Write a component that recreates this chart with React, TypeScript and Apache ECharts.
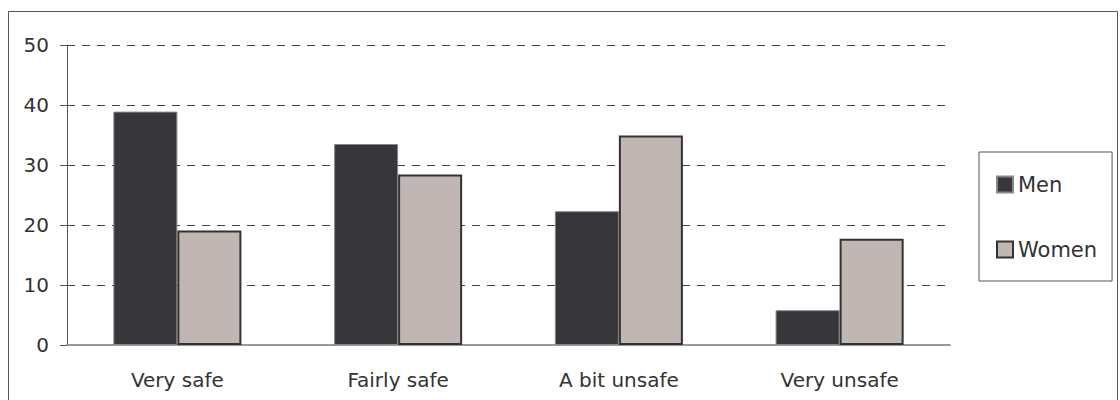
import React, { useEffect, useRef } from "react";
import * as echarts from "echarts";

const categories = ["Very safe", "Fairly safe", "A bit unsafe", "Very unsafe"];
const menValues = [38.9, 33.5, 22.3, 5.8];
const womenValues = [19.1, 28.4, 34.9, 17.7];
const yTicks = { min: 0, max: 50, interval: 10 };

export default function App() {
  const ref = useRef<HTMLDivElement>(null);
  useEffect(() => {
    if (!ref.current) return;
    const chart = echarts.init(ref.current, null, { renderer: "svg" });
    const font = "'DejaVu Sans', sans-serif";
    chart.setOption({
      animation: false,
      backgroundColor: "#ffffff",
      textStyle: { fontFamily: font },
      graphic: [
        {
          type: "rect",
          shape: { x: 8.5, y: 11.5, width: 1109, height: 400 },
          style: { fill: "none", stroke: "#555", lineWidth: 1 },
          silent: true,
        },
      ],
      grid: { left: 67, right: 170, top: 45, bottom: 55 },
      legend: {
        orient: "vertical",
        left: 979,
        top: 152,
        padding: [22, 15, 21, 17],
        itemWidth: 16,
        itemHeight: 16,
        itemGap: 44,
        borderColor: "#555",
        borderWidth: 1,
        icon: "rect",
        textStyle: { fontSize: 21, color: "#333", fontFamily: font },
        data: ["Men", "Women"],
      },
      xAxis: {
        type: "category",
        data: categories,
        axisLine: { show: true, lineStyle: { color: "#999", width: 2 } },
        axisTick: { show: false },
        axisLabel: { fontSize: 20, color: "#333", margin: 25, fontFamily: font },
      },
      yAxis: {
        type: "value",
        min: yTicks.min,
        max: yTicks.max,
        interval: yTicks.interval,
        axisLine: { show: true, lineStyle: { color: "#555", width: 1 } },
        axisTick: { show: true, length: 7, lineStyle: { color: "#555" } },
        axisLabel: { fontSize: 20, color: "#333", margin: 18, fontFamily: font },
        splitLine: {
          show: true,
          lineStyle: { color: "#444", type: [8, 7], width: 1 },
        },
      },
      series: [
        {
          name: "Men",
          type: "bar",
          data: menValues,
          barGap: "0%",
          barCategoryGap: "42%",
          itemStyle: { color: "#37363b", borderColor: "#888", borderWidth: 1 },
        },
        {
          name: "Women",
          type: "bar",
          data: womenValues,
          barGap: "0%",
          barCategoryGap: "42%",
          itemStyle: { color: "#c0b6b3", borderColor: "#333", borderWidth: 2 },
        },
      ],
    });
    return () => chart.dispose();
  }, []);
  return (
    <div
      ref={ref}
      style={{ position: "fixed", left: 0, top: 0, width: 1120, height: 400 }}
    />
  );
}
